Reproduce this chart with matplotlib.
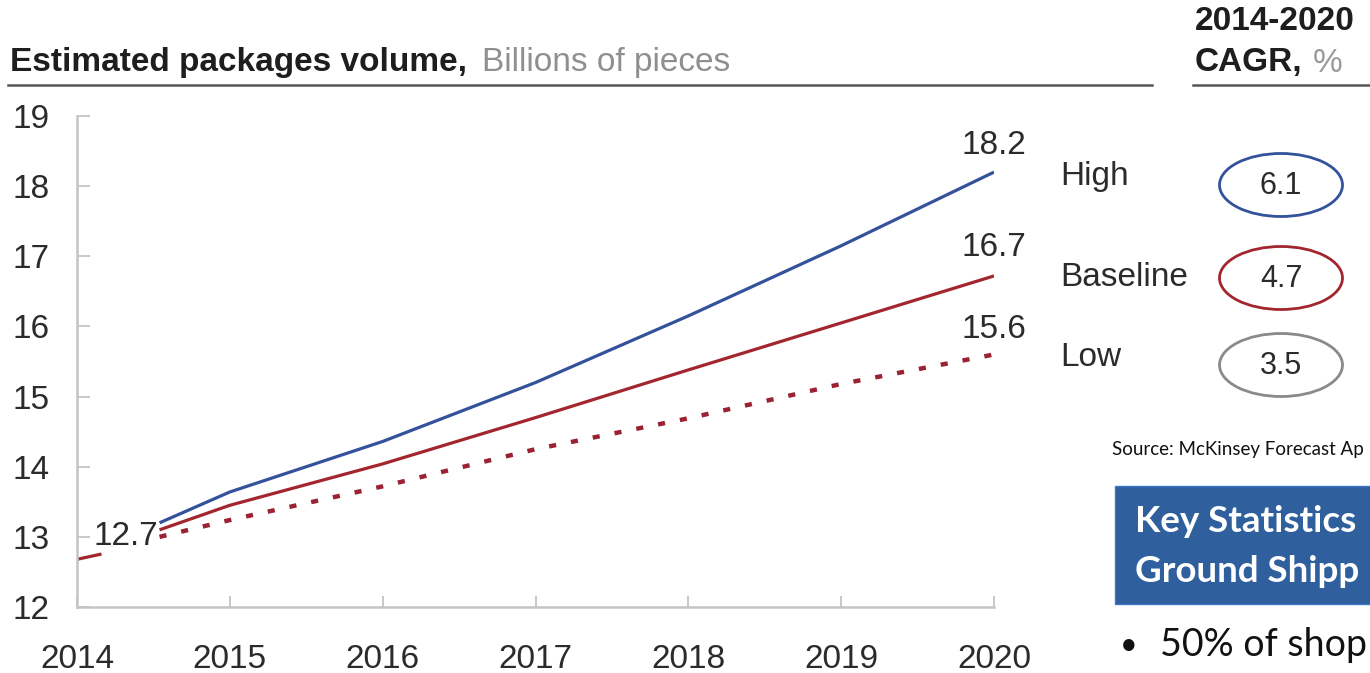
import matplotlib
matplotlib.use("Agg")
import matplotlib.pyplot as plt
from matplotlib.patches import Ellipse, Rectangle

# ---------------- data ----------------
years = [2014.54, 2015, 2016, 2017, 2018, 2019, 2020]
high = [13.2, 13.64, 14.36, 15.2, 16.15, 17.15, 18.2]
baseline = [13.1, 13.45, 14.04, 14.7, 15.38, 16.05, 16.72]
low = [13.0, 13.24, 13.72, 14.25, 14.69, 15.18, 15.6]
stub_years = [2014, 2014.15]
stub_values = [12.68, 12.75]
start_value = 12.7
end_labels = ["18.2", "16.7", "15.6"]
scenarios = ["High", "Baseline", "Low"]
cagr = ["6.1", "4.7", "3.5"]
x_ticks = [2014, 2015, 2016, 2017, 2018, 2019, 2020]
y_ticks = [12, 13, 14, 15, 16, 17, 18, 19]

BLUE = "#33529b"
RED = "#a3262f"
DRED = "#9a2232"
GRAY = "#8a8a8a"
TXT = "#2b2b2b"
FONT = "Liberation Sans"

W, H = 1370, 673
fig = plt.figure(figsize=(W / 100, H / 100), dpi=100)
fig.patch.set_facecolor("white")

def fx(px):
    return px / W

def fy(py):
    return 1 - py / H

# main axes
ax = fig.add_axes([fx(77), fy(607), fx(994) - fx(77), fy(116) - fy(607)])
ax.plot(years, high, color=BLUE, lw=2.3, solid_capstyle="butt")
ax.plot(years, baseline, color=RED, lw=2.3, solid_capstyle="butt")
ax.plot(years, low, color=DRED, lw=3.2, linestyle=(0, (1.6, 3.4)))
ax.plot(stub_years, stub_values, color=RED, lw=2.3)
ax.set_xlim(2014, 2020)
ax.set_ylim(12, 19)
ax.set_xticks(x_ticks)
ax.set_yticks(y_ticks)
for s in ["top", "right"]:
    ax.spines[s].set_visible(False)
for s in ["left", "bottom"]:
    ax.spines[s].set_color("#c4c4c4")
    ax.spines[s].set_linewidth(1.8)
ax.tick_params(axis="y", direction="in", length=9, width=1.3, color="#c4c4c4",
               labelsize=24, labelcolor=TXT, pad=20)
ax.tick_params(axis="x", direction="in", length=8, width=1.3, color="#c4c4c4",
               labelsize=24, labelcolor=TXT, pad=27)
for lab in ax.get_xticklabels() + ax.get_yticklabels():
    lab.set_fontfamily(FONT)

# value labels
ends = [high[-1], baseline[-1], low[-1]]
offsets = [0.38, 0.40, 0.36]
for v, lab, off in zip(ends, end_labels, offsets):
    ax.text(2020.0, v + off, lab, fontsize=24, family=FONT, color=TXT,
            ha="center", va="center")
ax.text(2014.11, start_value + 0.31, f"{start_value}", fontsize=24, family=FONT,
        color=TXT, ha="left", va="center")

# overlay in pixel coordinates
ov = fig.add_axes([0, 0, 1, 1])
ov.set_xlim(0, W)
ov.set_ylim(H, 0)
ov.axis("off")
ov.patch.set_alpha(0)

ov.text(10, 63, "Estimated packages volume,", fontsize=24, family=FONT,
        weight="bold", color="#1e1e1e", ha="left", va="center")
ov.text(482, 63, "Billions of pieces", fontsize=24, family=FONT,
        color="#8f8f8f", ha="left", va="center")
ov.plot([8, 1152], [85, 85], color="#555555", lw=1.8)
ov.plot([1193, 1370], [85, 85], color="#555555", lw=1.8)
ov.text(1195, 22, "2014-2020", fontsize=24, family=FONT, weight="bold",
        color="#1e1e1e", ha="left", va="center")
ov.text(1195, 63, "CAGR,", fontsize=24, family=FONT, weight="bold",
        color="#1e1e1e", ha="left", va="center")
ov.text(1313, 63, "%", fontsize=24, family=FONT, color="#9a9a9a",
        ha="left", va="center")

ell_colors = [BLUE, RED, GRAY]
label_y = [176, 277, 358]
ell_y = [185, 278, 365]
for name, val, ly, ey, c in zip(scenarios, cagr, label_y, ell_y, ell_colors):
    ov.text(1060, ly, name, fontsize=24, family=FONT, color=TXT,
            ha="left", va="center")
    ov.add_patch(Ellipse((1281, ey), 123, 63, fill=False, edgecolor=c, lw=2.0))
    ov.text(1281, ey + 1, val, fontsize=22, family=FONT, color=TXT,
            ha="center", va="center")

ov.text(1112, 449, "Source: McKinsey Forecast Ap", fontsize=13.5,
        family="Lato", color="#111111", ha="left", va="center")
ov.add_patch(Rectangle((1115, 486), 300, 118, facecolor="#2f5f9c",
                       edgecolor="#3a78c8", lw=1.0))
ov.text(1135, 522, "Key Statistics", fontsize=26.5, family="Lato",
        weight="bold", color="white", ha="left", va="center")
ov.text(1135, 571, "Ground Shipp", fontsize=26.5, family="Lato",
        weight="bold", color="white", ha="left", va="center")
ov.text(1120, 645, "\u2022", fontsize=22, family="Lato", color="#111111",
        ha="left", va="center")
ov.text(1160, 645, "50% of shop", fontsize=27, family="Lato",
        color="#111111", ha="left", va="center")

fig.savefig("out.png", dpi=100)
